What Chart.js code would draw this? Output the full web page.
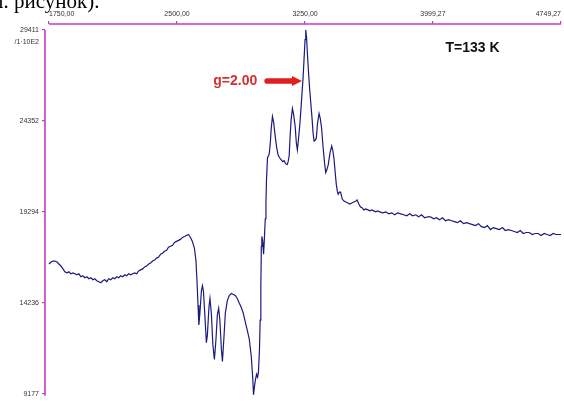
<!DOCTYPE html>
<html>
<head>
<meta charset="utf-8">
<script src="https://cdn.jsdelivr.net/npm/chart.js@4.4.1/dist/chart.umd.min.js"></script>
<style>
  html, body { margin: 0; padding: 0; background: #ffffff; }
  #wrap { position: relative; width: 564px; height: 403px; overflow: hidden; }
  #frag { position: absolute; left: -7px; top: -9px; font: 21px 'Liberation Serif', 'Times New Roman', serif; line-height: 21px; color: #000; white-space: nowrap; }
  canvas { position: absolute; left: 0; top: 0; }
</style>
</head>
<body>
<div id="wrap">
  <canvas id="c" width="564" height="403"></canvas>
  <div id="frag">л. рисунок).</div>
</div>
<script>
// ---- data ----
const fieldG = [
  1750,1762,1773,1785,1797,1808,1820,1832,1843,1855,1867,1878,1890,1902,1913,1925,1937,1948,1960,1972,
  1983,1995,2007,2018,2030,2042,2054,2065,2077,2089,2100,2112,2124,2135,2147,2159,2170,2182,2194,2205,
  2217,2229,2240,2252,2264,2275,2287,2299,2310,2322,2334,2345,2357,2369,2380,2392,2404,2415,2427,2439,
  2450,2462,2474,2485,2497,2509,2520,2532,2544,2555,2567,2579,2590,
  2602,2611,2617,2623,2628,2634,2643,2649,2655,2663,
  2672,2678,2687,2693,2701,2710,2719,2728,2736,2744,
  2751,2760,2766,2774,2783,2795,2806,2818,2830,2841,
  2853,2865,2876,2888,2900,2911,2923,2935,2944,2948,
  2954,2960,2966,2972,2977,2983,2987,2991,2994,2997,
  3002,3007,3011,3017,3021,3024,3030,3036,3040,3046,
  3052,3059,3066,3075,3084,3092,3101,3110,3119,3127,
  3136,3145,3151,3157,3162,3168,3176,3183,3192,3199,
  3205,3211,3219,3227,3233,3238,3244,3250,3254,3259,
  3265,3270,3276,3283,3291,3297,3303,3310,3316,3323,
  3332,3339,3347,3355,3364,3371,3378,3386,3396,3406,
  3413,3419,3425,3433,3439,3444,3451,3458,3468,3478,
  3489,3501,3513,3524,3536,3548,3555,3565,3575,3586,
  3594,3606,3618,3629,3641,3653,3664,3676,3688,
  3705,3723,3740,3758,3775,3793,3810,3828,3845,3863,
  3880,3898,3915,3933,3950,3968,3985,4003,4020,4038,
  4055,4073,4090,4108,4125,4143,4160,4178,4196,4213,
  4231,4248,4266,4283,4301,4318,4336,4353,4371,4388,
  4406,4423,4441,4458,4476,4493,4511,4528,4546,4563,
  4581,4598,4616,4633,4651,4668,4686,4703,4721,4738,
  4749
];
const signal = [
  16396,16506,16560,16560,16506,16396,16287,16123,15959,15904,15959,15849,15904,15849,15794,15849,15685,15740,15630,15685,
  15576,15630,15521,15576,15466,15412,15357,15466,15521,15412,15576,15521,15630,15576,15685,15630,15740,15685,15794,15740,
  15849,15794,15849,15904,15849,16013,16068,16123,16232,16287,16396,16451,16560,16615,16724,16779,16943,16998,17107,17162,
  17326,17380,17435,17599,17654,17709,17763,17873,17927,17982,18037,17873,17654,
  17271,16560,15466,14099,13005,13662,14919,15193,14865,13552,
  12021,12458,13990,14482,13662,11912,11091,12185,13552,13935,
  13279,11638,10982,12185,13662,14373,14646,14755,14701,14646,
  14482,14209,13990,13662,13169,12732,12240,11255,9997,9122,
  9615,9997,10271,10107,10380,11638,13279,15193,17380,17927,
  17654,16943,17654,18912,19842,21045,22303,22412,22521,23068,
  23943,24600,24271,23506,22850,22467,22303,22193,22084,22139,
  21975,21920,22084,22412,23396,24381,25037,24709,24053,23123,
  22740,23287,24107,25147,26022,26678,27772,28865,29412,28975,
  27881,27115,26240,25420,24490,23670,23232,23287,23396,24217,
  24764,24490,23943,22959,22029,21482,21646,21920,22576,22959,
  22685,22303,21646,20826,20443,20279,20388,20388,20006,19896,
  19842,19787,19732,19787,19842,19896,19951,19732,19568,19513,
  19404,19459,19404,19349,19404,19349,19295,19349,19295,
  19240,19295,19185,19240,19131,19240,19185,19131,19076,19185,
  19076,19131,19021,19131,18966,19021,19021,18912,18966,18857,
  18966,18802,18857,18802,18748,18693,18802,18638,18693,18638,
  18584,18529,18638,18474,18420,18529,18310,18420,18365,18310,
  18420,18256,18310,18256,18201,18146,18256,18091,18146,18146,
  18037,18091,18091,17982,18091,18037,17982,18091,18037,18037,
  18037
];
const xTickValues = [1750, 2500, 3250, 3999.27, 4749.27];
const xTickLabels = ['1750,00', '2500,00', '3250,00', '3999,27', '4749,27'];
const yTickValues = [9177, 14236, 19294, 24352, 29411];
const yTickLabels = ['9177', '14236', '19294', '24352', '29411'];
const yUnitLabel = '/1·10E2';
const tempLabel = 'T=133 K';
const gLabel = 'g=2.00';

// annotation anchors (data coordinates)
const tempAnchor = { x: 4073, y: 28380 };
const gAnchor = { x: 2970, y: 26569 };
const arrowFrom = { x: 3016, y: 26569 };
const arrowTo = { x: 3232, y: 26569 };

const MAGENTA = '#c43cc4';
const n = Math.min(fieldG.length, signal.length);
const points = [];
for (let i = 0; i < n; i++) points.push({ x: fieldG[i], y: signal[i] });

const tickFont = { family: '"Liberation Sans", Arial, sans-serif', size: 7 };

const axisLines = {
  id: 'axisLines',
  afterDraw(chart) {
    const { ctx, chartArea } = chart;
    const xs = chart.scales.x, ys = chart.scales.y;
    ctx.save();
    ctx.strokeStyle = MAGENTA;
    ctx.lineWidth = 1.6;
    ctx.beginPath();
    ctx.moveTo(xs.getPixelForValue(xTickValues[0]), chartArea.top);
    ctx.lineTo(xs.getPixelForValue(xTickValues[xTickValues.length - 1]), chartArea.top);
    ctx.stroke();
    const yTop = ys.getPixelForValue(yTickValues[yTickValues.length - 1]);
    ctx.beginPath();
    ctx.moveTo(chartArea.left, yTop);
    ctx.lineTo(chartArea.left, chartArea.bottom);
    ctx.stroke();
    // scale multiplier caption under the top tick label
    ctx.font = tickFont.size + 'px ' + tickFont.family;
    ctx.fillStyle = '#333333';
    ctx.textAlign = 'right';
    ctx.textBaseline = 'middle';
    ctx.fillText(yUnitLabel, chartArea.left - 6, yTop + 12);
    ctx.restore();
  }
};

const annotations = {
  id: 'annotations',
  afterDraw(chart) {
    const { ctx } = chart;
    const xs = chart.scales.x, ys = chart.scales.y;
    ctx.save();
    ctx.font = 'bold 14px "Liberation Sans", Arial, sans-serif';
    ctx.fillStyle = '#111111';
    ctx.textAlign = 'left';
    ctx.textBaseline = 'middle';
    ctx.fillText(tempLabel, xs.getPixelForValue(tempAnchor.x), ys.getPixelForValue(tempAnchor.y));

    ctx.font = 'bold 14px "Liberation Sans", Arial, sans-serif';
    ctx.fillStyle = '#d23232';
    ctx.textAlign = 'right';
    ctx.fillText(gLabel, xs.getPixelForValue(gAnchor.x), ys.getPixelForValue(gAnchor.y));

    const x0 = xs.getPixelForValue(arrowFrom.x), x1 = xs.getPixelForValue(arrowTo.x);
    const y = ys.getPixelForValue(arrowFrom.y);
    ctx.fillStyle = '#e01f1f';
    ctx.beginPath();
    ctx.moveTo(x0 + 2, y - 2.8);
    ctx.lineTo(x1 - 10, y - 2.8);
    ctx.lineTo(x1 - 10, y - 5);
    ctx.lineTo(x1, y);
    ctx.lineTo(x1 - 10, y + 5);
    ctx.lineTo(x1 - 10, y + 2.8);
    ctx.lineTo(x0 + 2, y + 2.8);
    ctx.arc(x0 + 2, y, 2.8, Math.PI / 2, Math.PI * 1.5);
    ctx.closePath();
    ctx.fill();
    ctx.restore();
  }
};

new Chart(document.getElementById('c'), {
  type: 'line',
  data: {
    datasets: [{
      data: points,
      borderColor: '#1a1a7e',
      borderWidth: 1.2,
      pointRadius: 0,
      tension: 0,
      fill: false
    }]
  },
  options: {
    responsive: false,
    animation: false,
    devicePixelRatio: 1,
    parsing: false,
    layout: { padding: { left: 0, right: 1, top: 0, bottom: 1 } },
    plugins: { legend: { display: false }, tooltip: { enabled: false }, title: { display: false } },
    scales: {
      x: {
        type: 'linear',
        position: 'top',
        min: 1726.65,
        max: 4749.27,
        afterBuildTicks: s => { s.ticks = xTickValues.map(v => ({ value: v })); },
        afterFit: s => { s.height = 24; },
        grid: { drawOnChartArea: false, drawTicks: true, tickLength: 3, color: MAGENTA, lineWidth: 1.2 },
        border: { display: false },
        ticks: {
          align: 'inner', maxRotation: 0, minRotation: 0, autoSkip: false, padding: 3,
          color: '#333333', font: tickFont,
          callback: (v, i) => xTickLabels[i]
        }
      },
      y: {
        type: 'linear',
        position: 'left',
        min: 9068,
        max: 29739,
        afterBuildTicks: s => { s.ticks = yTickValues.map(v => ({ value: v })); },
        afterFit: s => { s.width = 45; },
        grid: { drawOnChartArea: false, drawTicks: true, tickLength: 3, color: MAGENTA, lineWidth: 1.2 },
        border: { display: false },
        ticks: {
          autoSkip: false, padding: 3,
          color: '#333333', font: tickFont,
          callback: (v, i) => yTickLabels[i]
        }
      }
    }
  },
  plugins: [axisLines, annotations]
});
</script>
</body>
</html>
